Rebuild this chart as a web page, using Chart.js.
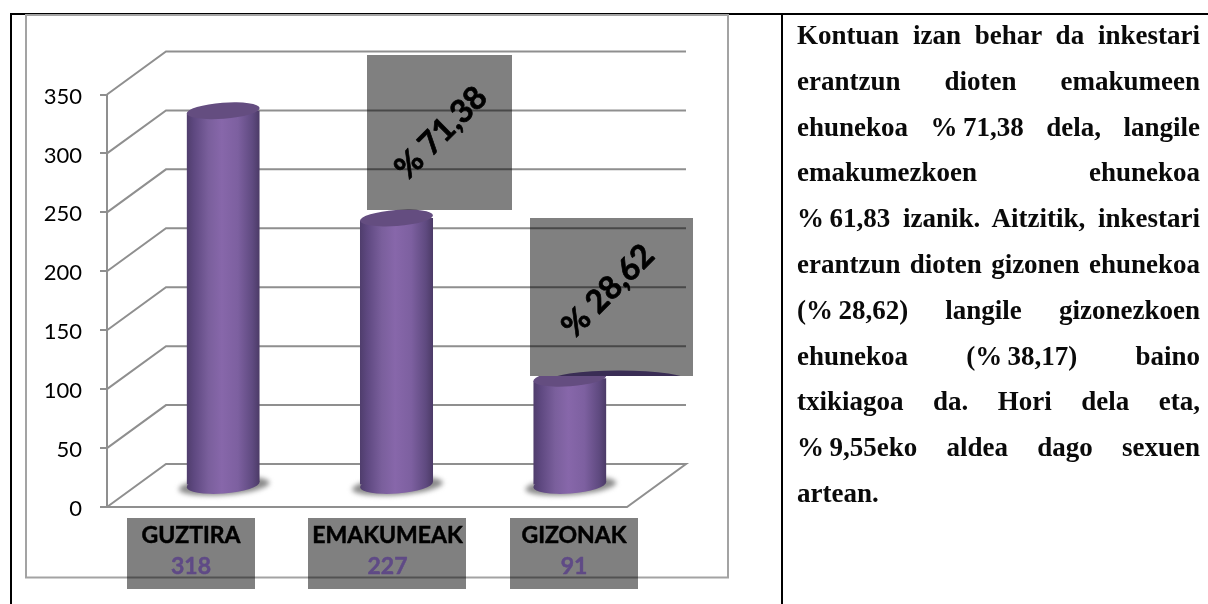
<!DOCTYPE html>
<html>
<head>
<meta charset="utf-8">
<style>
html,body{margin:0;padding:0;background:#fff;overflow:hidden}
#wrap{position:relative;width:1208px;height:604px}
canvas{position:absolute;left:0;top:0}
.ln{position:absolute;left:797px;width:403px;height:30px;font:bold 27px/30px "Liberation Serif",serif;color:#0a0a0a;text-align:justify;text-align-last:justify;white-space:nowrap}
.ln.last{text-align-last:left}
</style>
<script src="https://cdn.jsdelivr.net/npm/chart.js@4"></script>
</head>
<body>
<div id="wrap"><canvas id="c" width="1208" height="604"></canvas><div id="txt"></div></div>
<script>
const categories = ['GUZTIRA', 'EMAKUMEAK', 'GIZONAK'];
const values = [318, 227, 91];
const tickValues = [0, 50, 100, 150, 200, 250, 300, 350];
const percentLabels = ['% 71,38', '% 28,62'];
const noteLines = [
  'Kontuan izan behar da inkestari',
  'erantzun dioten emakumeen',
  'ehunekoa %\u200971,38 dela, langile',
  'emakumezkoen ehunekoa',
  '%\u200961,83 izanik. Aitzitik, inkestari',
  'erantzun dioten gizonen ehunekoa',
  '(%\u200928,62) langile gizonezkoen',
  'ehunekoa (%\u200938,17) baino',
  'txikiagoa da. Hori dela eta,',
  '%\u20099,55eko aldea dago sexuen',
  'artean.'
];

// layout constants (not data)
const FRONT = {left:107, right:627, top:94.5, bottom:507};
const DEPTH = {x:59, y:-43};
const GRID = '#8f8f8f';
const FRAME = '#a3a3a3';
const catBoxes = [{x:127,w:128,cx:191},{x:308,w:158,cx:387.5},{x:510,w:128,cx:574}];
const pctBoxes = [{x:367,y:55,w:145,h:155,cx:441,cy:133},{x:530,y:218,w:163,h:158,cx:608,cy:291}];

noteLines.forEach((t,i)=>{
  const d=document.createElement('div');
  d.className='ln'+(i===noteLines.length-1?' last':'');
  d.style.top=(35+45.8*i-15)+'px';
  d.textContent=t;
  document.getElementById('txt').appendChild(d);
});

function cylGrad(ctx,l,r){
  const g=ctx.createLinearGradient(l,0,r,0);
  g.addColorStop(0,'#4f3d6c');
  g.addColorStop(0.1,'#5e4880');
  g.addColorStop(0.3,'#7a5f9c');
  g.addColorStop(0.48,'#8767aa');
  g.addColorStop(0.7,'#7d60a0');
  g.addColorStop(0.9,'#5f4a80');
  g.addColorStop(1,'#4b3a66');
  return g;
}
const TILT=-0.075, RY=8;

const backdrop={
  id:'backdrop',
  beforeDraw(chart){
    const c=chart.ctx, y=chart.scales.y;
    c.save();
    c.strokeStyle='#000'; c.lineWidth=2;
    c.beginPath();
    c.moveTo(1208,14); c.lineTo(11,14); c.lineTo(11,604);
    c.moveTo(782,14); c.lineTo(782,604);
    c.stroke();
    c.strokeStyle=FRAME; c.lineWidth=2;
    c.strokeRect(26,15,702,562.5);
    c.strokeStyle=GRID; c.lineWidth=2;
    tickValues.forEach(v=>{
      const py=y.getPixelForValue(v);
      c.beginPath();
      c.moveTo(FRONT.left,py);
      c.lineTo(FRONT.left+DEPTH.x,py+DEPTH.y);
      c.lineTo(FRONT.right+DEPTH.x,py+DEPTH.y);
      if(v===0){c.lineTo(FRONT.right,py);c.lineTo(FRONT.left,py);}
      c.stroke();
    });
    c.restore();
  }
};

const cylinders={
  id:'cylinders',
  beforeDatasetDraw(chart,args){
    const c=chart.ctx, meta=args.meta;
    c.save();
    c.translate(DEPTH.x/2,DEPTH.y/2);
    meta.data.forEach(b=>{
      const l=b.x-b.width/2,r=b.x+b.width/2;
      c.save();
      c.filter='blur(2.5px)';
      c.fillStyle='#8a8a8a';
      c.beginPath();
      c.ellipse(b.x+1,b.base+1.5,b.width/2+9,RY+1,TILT,0,Math.PI*2);
      c.fill();
      c.restore();
      const g=cylGrad(c,l,r);
      c.fillStyle=g;
      c.beginPath();
      c.ellipse(b.x,b.base,b.width/2,RY+1,TILT,0,Math.PI*2);
      c.fill();
      b.options=Object.assign({},b.options,{backgroundColor:g});
    });
    c.beginPath();
    meta.data.forEach(b=>{
      const l=b.x-b.width/2,r=b.x+b.width/2,d=Math.tan(-TILT)*b.width/2;
      c.moveTo(l,b.y+d);c.lineTo(r,b.y-d);c.lineTo(r,b.base-d);c.lineTo(l,b.base+d);c.closePath();
    });
    c.clip();
  },
  afterDatasetDraw(chart,args){
    const c=chart.ctx;
    c.restore();
    c.save();
    c.translate(DEPTH.x/2,DEPTH.y/2);
    args.meta.data.forEach(b=>{
      c.fillStyle='#644d80';
      c.beginPath();
      c.ellipse(b.x,b.y,b.width/2,RY,TILT,0,Math.PI*2);
      c.fill();
    });
    c.restore();
  }
};

const annotations={
  id:'annotations',
  afterDraw(chart){
    const c=chart.ctx;
    c.save();
    c.globalCompositeOperation='multiply';
    c.fillStyle='#808080';
    pctBoxes.forEach(b=>c.fillRect(b.x,b.y,b.w,b.h));
    catBoxes.forEach(b=>c.fillRect(b.x,518,b.w,71));
    c.globalCompositeOperation='source-over';
    // lower edge of the second box hides the cap and shows a dark arc
    c.fillStyle='#808080';
    c.fillRect(530,362,163,14);
    c.save();
    c.beginPath();c.rect(530,362,163,14);c.clip();
    c.fillStyle='#3a2d55';
    c.beginPath();c.ellipse(619,381,70,10.5,0,0,Math.PI*2);c.fill();
    c.restore();
    c.textAlign='center';c.textBaseline='middle';c.lineJoin='round';
    categories.forEach((t,i)=>{
      c.fillStyle='#000';c.strokeStyle='#000';c.lineWidth=0.5;
      c.font='bold 23px Lato, "Open Sans", sans-serif';
      c.fillText(t,catBoxes[i].cx,536);
      c.strokeText(t,catBoxes[i].cx,536);
      c.fillStyle='#5f4a86';c.strokeStyle='#5f4a86';
      c.fillText(String(values[i]),catBoxes[i].cx,567);
      c.strokeText(String(values[i]),catBoxes[i].cx,567);
    });
    percentLabels.forEach((t,i)=>{
      c.save();
      c.translate(pctBoxes[i].cx,pctBoxes[i].cy);
      c.rotate(-Math.PI/4);
      c.fillStyle='#000';c.strokeStyle='#000';c.lineWidth=0.7;
      c.font='bold 32px Lato, "Open Sans", sans-serif';
      c.fillText(t,0,0);
      c.strokeText(t,0,0);
      c.restore();
    });
    c.restore();
  }
};

new Chart(document.getElementById('c'),{
  type:'bar',
  data:{labels:categories,datasets:[{
    data:values,
    clip:false,
    barPercentage:73/173,
    categoryPercentage:1,
    backgroundColor:'#7a5f9c',
    borderWidth:0
  }]},
  plugins:[backdrop,cylinders,annotations],
  options:{
    responsive:false,animation:false,
    layout:{padding:{left:0,top:FRONT.top,right:1208-FRONT.right,bottom:604-FRONT.bottom}},
    plugins:{legend:{display:false},title:{display:false},tooltip:{enabled:false}},
    scales:{
      x:{
        ticks:{display:false},
        grid:{display:false,drawTicks:false},
        border:{display:false},
        afterFit(s){s.height=0;}
      },
      y:{
        min:0,max:350,
        afterBuildTicks(s){s.ticks=tickValues.map(v=>({value:v}));},
        afterFit(s){s.width=FRONT.left;},
        ticks:{color:'#000',font:{family:'Lato',size:22},padding:18,labelOffset:2},
        grid:{drawOnChartArea:false,color:GRID,tickLength:7,lineWidth:2},
        border:{color:GRID,width:2}
      }
    }
  }
});
</script>
</body>
</html>
